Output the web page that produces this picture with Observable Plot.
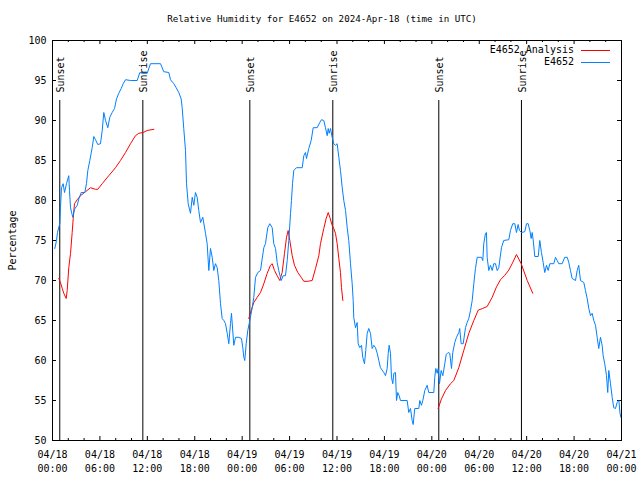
<!DOCTYPE html>
<html><head><meta charset="utf-8">
<script src="https://cdn.jsdelivr.net/npm/d3@7"></script>
<script src="https://cdn.jsdelivr.net/npm/@observablehq/plot@0.6"></script>
<style>
body{margin:0;background:#fff;}
#wrap{position:relative;width:640px;height:480px;}
.leg{position:absolute;font:10px "DejaVu Sans Mono",monospace;color:#000;white-space:nowrap;}
.legline{position:absolute;height:0;}
</style></head><body><div id="wrap"></div>
<script>
// Hours since 2024-04-18 00:00 UTC, relative humidity (%)
const observed = [[0.29,74],[0.51,75],[0.63,76],[0.92,77.1],[1.01,79.1],[1.14,81.6],[1.35,82.1],[1.52,81],[1.77,82.1],[1.94,82.7],[2.06,83.1],[2.15,81.25],[2.28,79.1],[2.44,78.4],[2.57,77.9],[2.78,78.9],[3.13,79.4],[3.33,80.2],[3.63,81],[4.09,81],[4.30,82.1],[4.47,83.75],[4.72,85],[5.02,86.6],[5.23,88],[5.44,87.6],[5.73,87],[6.07,87.1],[6.29,88.75],[6.49,91],[6.71,90],[7.00,89.1],[7.25,90.4],[7.55,91],[7.85,91.5],[8.10,92.7],[8.39,93.4],[8.69,94],[8.95,94.6],[9.24,95.1],[9.87,95],[10.72,95],[11.05,96],[11.35,95.9],[11.98,95.9],[12.40,97.1],[13.67,97.1],[14.08,96.1],[14.72,96],[14.93,95.1],[15.35,94.6],[15.65,94.1],[15.98,93.5],[16.28,92.7],[16.41,91.6],[16.61,89],[16.83,86.25],[16.96,82.1],[17.17,79.6],[17.46,78.4],[17.68,80.4],[17.88,79.4],[18.09,81],[18.31,80.4],[18.51,78.75],[18.73,77.25],[19.02,77.9],[19.36,75.9],[19.57,74.6],[19.78,71.25],[19.99,74],[20.21,72.9],[20.41,71.25],[20.62,72.1],[20.84,71.6],[21.04,70],[21.26,67.1],[21.47,65.25],[21.68,65],[21.89,64.6],[22.11,63.4],[22.31,62.1],[22.52,64.6],[22.65,65.9],[22.94,61.9],[23.16,62.9],[23.57,62.9],[23.91,62.75],[24.08,61.6],[24.21,60.4],[24.33,60],[24.51,62.1],[24.71,63.75],[24.97,65],[25.27,66.6],[25.47,67.9],[25.69,70.4],[25.98,71],[26.32,71.25],[26.53,72.7],[26.74,74.1],[26.95,74.6],[27.24,76.6],[27.50,77.1],[27.80,76.6],[28.00,74.6],[28.22,74],[28.43,72.25],[28.63,71.25],[28.94,70],[29.19,70.6],[29.48,70.6],[29.70,72.5],[29.90,75],[30.12,78.4],[30.24,80],[30.37,82.1],[30.53,83.75],[30.87,84.1],[31.60,84.1],[31.80,85.6],[32.01,86],[32.14,85.25],[32.43,86.5],[32.73,87.5],[32.99,89.1],[33.49,89.1],[33.82,89.75],[34.04,90.1],[34.33,90],[34.54,89.1],[34.76,88.1],[34.89,89],[35.01,88.4],[35.18,89],[35.39,87.9],[35.59,87.1],[35.81,86.9],[36.02,87.1],[36.23,85.4],[36.44,83.75],[36.66,81.6],[36.86,80],[37.08,78.75],[37.29,76.6],[37.49,75],[37.71,72.1],[37.92,69.6],[38.05,67.5],[38.12,65.4],[38.34,64.1],[38.55,64.75],[38.68,62.1],[38.88,61.6],[39.10,61.9],[39.26,60.4],[39.48,59.6],[39.64,61.25],[39.82,63.4],[40.02,64],[40.24,63.4],[40.45,61.5],[40.66,61.9],[40.87,61.6],[41.09,60.9],[41.29,60],[41.50,59.1],[41.92,58.5],[42.14,58.1],[42.35,59],[42.48,60.9],[42.60,61.9],[42.77,60.9],[42.89,57.9],[43.06,57.1],[43.19,58.4],[43.40,58.5],[43.53,55],[43.69,56],[43.87,55.6],[44.03,55],[44.88,55],[45.08,53.5],[45.30,54],[45.51,52.5],[45.64,52],[45.84,54],[46.35,54],[46.48,55],[46.69,54.4],[46.86,55],[47.11,56.25],[47.41,56.9],[47.61,56],[48.25,56],[48.37,57.9],[48.50,59],[48.68,58.4],[48.80,59],[48.97,57.1],[49.18,58.75],[49.39,58.1],[49.64,59.6],[49.82,60.75],[50.07,61],[50.27,60.9],[50.49,59],[50.65,61],[50.90,62.25],[51.12,62.9],[51.41,63.5],[51.53,64],[51.71,62.1],[51.97,62.1],[52.26,64.1],[52.47,64.75],[52.68,65.25],[52.89,66.25],[53.11,67.5],[53.31,69.6],[53.52,71.5],[53.74,72.9],[54.28,72.9],[54.45,72.5],[54.57,74.6],[54.79,75.9],[54.91,76],[55.00,72.9],[55.21,71.25],[55.42,71.9],[55.64,71.25],[55.84,72.1],[56.05,72.1],[56.27,71.25],[56.47,71.6],[56.81,74.1],[57.10,75],[57.74,75.1],[57.95,76.25],[58.24,77.1],[58.50,77.1],[58.71,76],[58.92,77],[59.09,76.25],[59.34,76],[59.76,76.1],[59.98,77.1],[60.19,77.1],[60.40,76.25],[60.57,75.25],[60.70,76],[60.82,75.1],[61.03,73],[61.46,73],[61.66,75],[61.87,73.5],[62.09,72.25],[62.29,71],[62.51,71.9],[62.72,71.25],[62.93,72.1],[63.43,72.1],[63.65,72.9],[63.86,72.5],[64.06,72.1],[64.49,72.1],[64.82,72.9],[65.13,72.9],[65.33,72.25],[65.54,71.25],[65.76,70.25],[66.18,70],[66.39,71.25],[66.59,71.9],[66.81,70],[67.23,69.75],[67.44,68.75],[67.66,67.75],[67.86,66.5],[68.08,65.6],[68.29,65.9],[68.49,65],[68.71,64.4],[68.92,62.9],[69.12,61.5],[69.34,62.9],[69.55,61.9],[69.68,60.6],[69.88,59.6],[70.10,58.1],[70.26,56],[70.39,58.75],[70.61,57.1],[70.82,55.4],[71.02,54.1],[71.24,54],[71.45,54.75],[71.67,55],[71.80,53.5],[71.92,52.9]];

const analysisDay1 = [[0.80,70.25],[1.01,69.75],[1.23,69],[1.43,68.4],[1.73,67.75],[1.86,68.75],[2.06,71.6],[2.28,73.4],[2.49,76],[2.62,77.75],[2.78,79.6],[3.13,80.1],[3.54,80.6],[4.18,81.1],[4.81,81.6],[5.44,81.4],[5.73,81.4],[6.29,82.1],[7.12,83.1],[7.97,84.1],[8.60,85],[9.24,86],[9.87,87.1],[10.50,88.1],[10.92,88.4],[11.48,88.5],[11.98,88.75],[12.82,88.9]];
const analysisDay2 = [[24.84,65.25],[25.14,66.25],[25.47,67.25],[25.90,67.9],[26.32,68.5],[26.74,69.6],[27.17,70.9],[27.58,71.9],[27.80,72.1],[28.09,71.25],[28.43,70.6],[28.76,70],[29.06,71],[29.36,73.4],[29.61,75.4],[29.82,76.25],[30.03,75],[30.33,73.1],[30.62,71.9],[31.04,71],[31.47,70.4],[31.80,69.9],[32.30,69.9],[32.86,70],[33.28,71.5],[33.70,73.1],[33.91,74.6],[34.33,76.5],[34.63,77.75],[34.89,78.5],[35.09,77.9],[35.39,76.9],[35.59,76.5],[35.81,75.9],[36.02,74.6],[36.23,72.75],[36.44,71],[36.57,69.1],[36.74,67.5]];
const analysisDay3 = [[48.80,54],[49.22,55.2],[49.73,56.25],[50.36,57.1],[50.78,57.5],[51.41,59.1],[52.04,61.25],[52.68,63.4],[53.31,65],[53.87,66.3],[54.41,66.5],[55.00,66.75],[55.64,67.9],[56.18,69.2],[56.69,70.1],[57.19,70.6],[57.74,71.3],[58.21,72.2],[58.71,73.25],[59.31,72.1],[60.07,70],[60.77,68.4]];

const sunHours = [0.92, 11.43, 24.97, 35.47, 48.88, 59.34];
const sunLabels = ["Sunset", "Sunrise", "Sunset", "Sunrise", "Sunset", "Sunrise"];

const majorXTicks = [0, 6, 12, 18, 24, 30, 36, 42, 48, 54, 60, 66, 72];
const minorXTicks = [2, 4, 8, 10, 14, 16, 20, 22, 26, 28, 32, 34, 38, 40, 44, 46, 50, 52, 56, 58, 62, 64, 68, 70];
const yTicks = [50, 55, 60, 65, 70, 75, 80, 85, 90, 95, 100];

const titleText = "Relative Humidity for E4652 on 2024-Apr-18 (time in UTC)";
const yLabelText = "Percentage";
const legendLabels = ["E4652 Analysis", "E4652"];
const legendColors = ["#ff0000", "#0080ff"];

const fmtHour = h => {
  const day = 18 + Math.floor(h / 24);
  const hh = h % 24;
  return "04/" + day + "\n" + String(hh).padStart(2, "0") + ":00";
};

const obsData = observed.map(([h, v]) => ({h, v}));
const anaData = [analysisDay1, analysisDay2, analysisDay3].flatMap((seg, i) => seg.map(([h, v]) => ({h, v, seg: i})));
const sunData = sunHours.map((h, i) => ({h, label: sunLabels[i]}));

const W = 640, H = 480, mL = 52, mR = 19, mT = 40, mB = 40;
const fw = W - mL - mR, fh = H - mT - mB;
const majLen = 4, minLen = 2;

const chart = Plot.plot({
  width: W, height: H,
  marginLeft: mL, marginRight: mR, marginTop: mT, marginBottom: mB,
  style: {fontFamily: '"DejaVu Sans Mono", monospace', fontSize: "10px", background: "#fff", color: "#000"},
  x: {type: "linear", domain: [0, 72]},
  y: {domain: [50, 100]},
  marks: [
    // ticks (inward, mirrored)
    Plot.tickX(majorXTicks, {x: d => d, insetTop: fh - majLen, stroke: "#000"}),
    Plot.tickX(majorXTicks, {x: d => d, insetBottom: fh - majLen, stroke: "#000"}),
    Plot.tickX(minorXTicks, {x: d => d, insetTop: fh - minLen, stroke: "#000"}),
    Plot.tickX(minorXTicks, {x: d => d, insetBottom: fh - minLen, stroke: "#000"}),
    Plot.tickY(yTicks, {y: d => d, insetRight: fw - majLen, stroke: "#000"}),
    Plot.tickY(yTicks, {y: d => d, insetLeft: fw - majLen, stroke: "#000"}),
    Plot.axisX({ticks: majorXTicks, tickSize: 0, tickPadding: 8, tickFormat: fmtHour, label: null, lineHeight: 1.4}),
    Plot.axisY({ticks: yTicks, tickSize: 0, tickPadding: 6, label: null}),
    // sunrise / sunset markers
    Plot.ruleX(sunData, {x: "h", y1: 50, y2: 92.5, stroke: "#000", strokeWidth: 1}),
    Plot.text(sunData, {x: "h", y: 93.5, text: "label", rotate: -90, textAnchor: "start", lineAnchor: "middle", dx: 1, fill: "#000"}),
    // series
    Plot.line(anaData, {x: "h", y: "v", z: "seg", stroke: legendColors[0], strokeWidth: 1}),
    Plot.line(obsData, {x: "h", y: "v", stroke: legendColors[1], strokeWidth: 1}),
    Plot.frame({stroke: "#000"}),
    // title and y label
    Plot.text([titleText], {frameAnchor: "top", dy: -21, dx: -15, lineAnchor: "middle", fontSize: 9.2, fill: "#000"}),
    Plot.text([yLabelText], {frameAnchor: "left", dx: -40, rotate: -90, textAnchor: "middle", lineAnchor: "middle", fill: "#000"})
  ]
});

const wrap = document.getElementById("wrap");
wrap.appendChild(chart);
legendLabels.forEach((lab, i) => {
  const t = document.createElement("div");
  t.className = "leg";
  t.textContent = lab;
  t.style.right = (W - 574) + "px";
  t.style.top = (44 + i * 12) + "px";
  t.style.lineHeight = "12px";
  wrap.appendChild(t);
  const l = document.createElement("div");
  l.className = "legline";
  l.style.left = "581px";
  l.style.width = "29px";
  l.style.top = (50 + i * 12) + "px";
  l.style.borderTop = "1px solid " + legendColors[i];
  wrap.appendChild(l);
});
</script></body></html>
